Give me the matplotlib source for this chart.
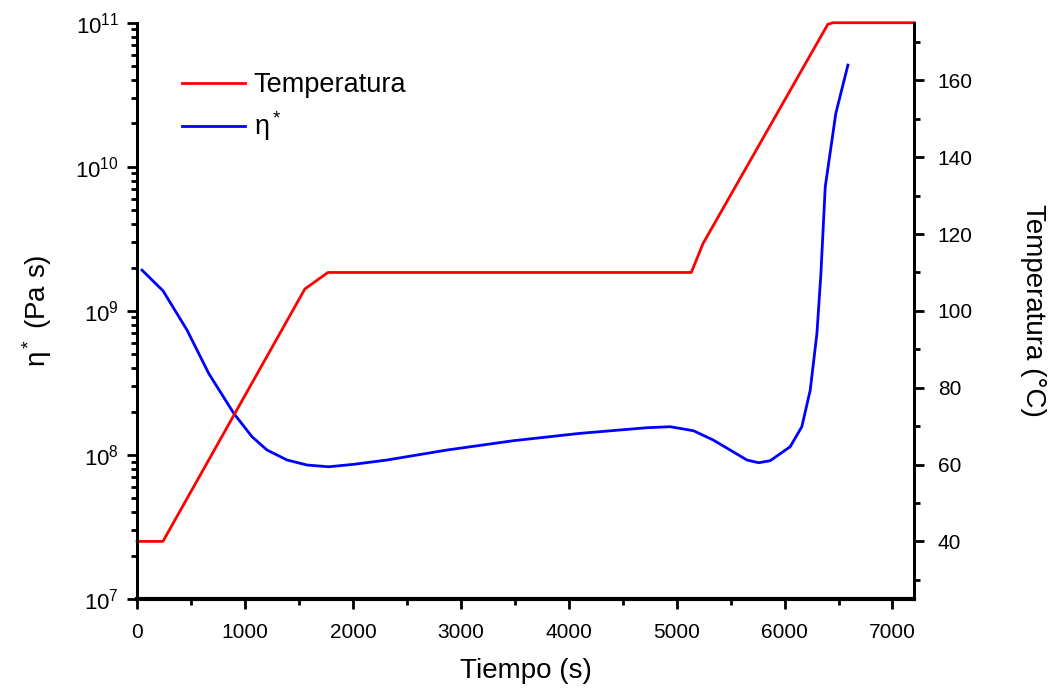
import matplotlib
matplotlib.use("Agg")
import matplotlib.pyplot as plt
import numpy as np
from matplotlib.ticker import LogLocator, LogFormatterMathtext, MultipleLocator

plt.rcParams['font.family'] = ['Liberation Sans', 'DejaVu Sans']
plt.rcParams['mathtext.fontset'] = 'custom'
plt.rcParams['mathtext.rm'] = 'Liberation Sans'
plt.rcParams['mathtext.it'] = 'Liberation Sans'
plt.rcParams['mathtext.default'] = 'regular'

# viscosity eta* (Pa s) vs time (s)
t_eta = [46, 241, 463, 664, 896, 1066, 1205, 1390, 1576, 1777, 2008, 2317,
         2870, 3488, 4106, 4724, 4940, 5156, 5341, 5651, 5759, 5867, 6052,
         6160, 6238, 6300, 6337, 6377, 6475, 6587]
log_eta = [9.283, 9.139, 8.867, 8.566, 8.289, 8.126, 8.034, 7.965, 7.930, 7.918,
           7.935, 7.965, 8.034, 8.099, 8.150, 8.189, 8.196, 8.168, 8.103, 7.965,
           7.946, 7.960, 8.057, 8.196, 8.450, 8.844, 9.260, 9.861, 10.371, 10.706]
eta = [10 ** v for v in log_eta]

# temperature program (C) vs time (s)
t_temp = [0, 240, 1555, 1769, 5136, 5244, 6401, 6450, 7200]
temp = [40, 40, 105.7, 110, 110, 117.5, 174.6, 175, 175]

fig = plt.figure(figsize=(10.51, 6.91), dpi=100)
ax = fig.add_axes([0.1304, 0.1331, 0.7393, 0.834])
ax2 = ax.twinx()

l_eta, = ax.plot(t_eta, eta, color='#0000ff', lw=2)
l_temp, = ax2.plot(t_temp, temp, color='#ff0000', lw=2, clip_on=False)

ax.set_yscale('log')
ax.set_ylim(1e7, 1e11)
ax.set_xlim(0, 7200)
ax2.set_ylim(25, 175)

ax.xaxis.set_major_locator(MultipleLocator(1000))
ax.xaxis.set_minor_locator(MultipleLocator(500))
ax.yaxis.set_major_locator(LogLocator(base=10, numticks=10))
ax.yaxis.set_minor_locator(LogLocator(base=10, subs=np.arange(2, 10), numticks=20))
ax.yaxis.set_major_formatter(LogFormatterMathtext())
ax2.yaxis.set_major_locator(MultipleLocator(20))
ax2.yaxis.set_minor_locator(MultipleLocator(10))

for a in (ax, ax2):
    a.spines['top'].set_visible(False)
    for s in a.spines.values():
        s.set_linewidth(2)
ax.spines['bottom'].set_linewidth(3)

ax.tick_params(axis='x', which='major', direction='out', length=7, width=2,
               labelsize=15, pad=10)
ax.tick_params(axis='y', which='major', direction='out', length=7, width=2,
               labelsize=16, pad=6)
ax.tick_params(axis='both', which='minor', direction='out', length=4, width=2)
ax2.tick_params(axis='y', which='major', direction='out', length=7, width=2,
                labelsize=15, pad=10)
ax2.tick_params(axis='y', which='minor', direction='out', length=4, width=2)

ax.set_xlabel('Tiempo (s)', fontsize=20, labelpad=12)
ax.set_ylabel('η$^*$ (Pa s)', fontsize=20, labelpad=15)
ax2.set_ylabel('Temperatura (°C)', fontsize=20, rotation=270, labelpad=53)

ax2.legend([l_temp, l_eta], ['Temperatura', 'η$^*$'], loc='upper left',
           bbox_to_anchor=(0.026, 0.956), frameon=False, fontsize=19.5,
           handlelength=2.33, handletextpad=0.33, labelspacing=0.4)

fig.savefig('out.png', dpi=100)
